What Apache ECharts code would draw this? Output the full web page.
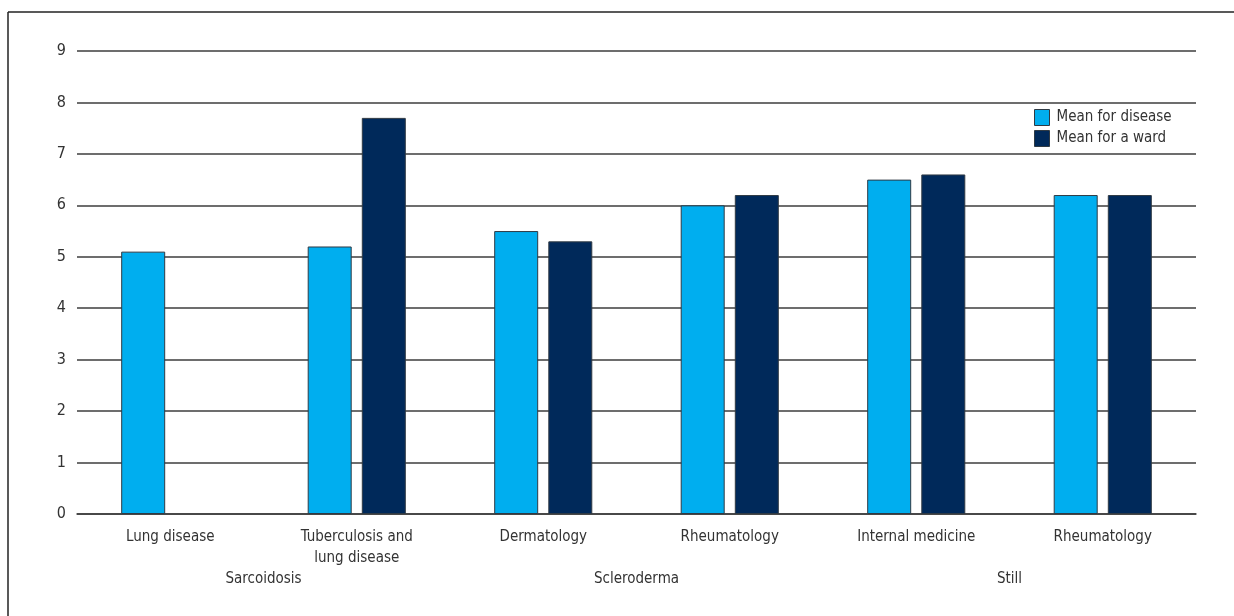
<!DOCTYPE html>
<html>
<head>
<meta charset="utf-8">
<script src="https://cdn.jsdelivr.net/npm/echarts@6/dist/echarts.min.js"></script>
<style>
  html, body { margin: 0; padding: 0; background: #fff; }
  #chart { width: 1234px; height: 616px; }
</style>
</head>
<body>
<div id="chart"></div>
<script>
// Wards (first row of the axis) and the disease each pair of wards belongs to
const wards = ['Lung disease', 'Tuberculosis and\nlung disease', 'Dermatology', 'Rheumatology', 'Internal medicine', 'Rheumatology'];
const diseases = ['Sarcoidosis', 'Scleroderma', 'Still'];

// Mean values
const meanForDisease = [5.1, 5.2, 5.5, 6.0, 6.5, 6.2];
const meanForWard = [null, 7.7, 5.3, 6.2, 6.6, 6.2];

const yTicks = [0, 1, 2, 3, 4, 5, 6, 7, 8, 9];

const FONT = '"DejaVu Sans Condensed", "Roboto", sans-serif';
const TEXT = '#333333';
const LINE = '#3c3c3c';

const chart = echarts.init(document.getElementById('chart'), null, { renderer: 'canvas' });

chart.setOption({
  animation: false,
  textStyle: { fontFamily: FONT },
  grid: { left: 77, right: 38, top: 51, bottom: 102 },
  legend: {
    orient: 'vertical',
    left: 1029,
    top: 104,
    icon: 'rect',
    itemWidth: 15,
    itemHeight: 16,
    itemGap: 4,
    itemStyle: { borderColor: '#2f3a44', borderWidth: 1 },
    textStyle: { fontFamily: FONT, fontSize: 15, color: TEXT, padding: [0, 0, 0, 2] },
    data: ['Mean for disease', 'Mean for a ward']
  },
  xAxis: [
    {
      type: 'category',
      data: wards,
      axisLine: { show: true, lineStyle: { color: LINE, width: 1.5 } },
      axisTick: { show: false },
      axisLabel: {
        fontFamily: FONT, fontSize: 15, color: TEXT, margin: 13,
        lineHeight: 21, interval: 0
      }
    },
    {
      type: 'category',
      position: 'bottom',
      offset: 58,
      data: diseases,
      axisLine: { show: false },
      axisTick: { show: false },
      axisLabel: { fontFamily: FONT, fontSize: 15, color: TEXT, margin: 0, interval: 0 }
    }
  ],
  yAxis: {
    type: 'value',
    min: yTicks[0],
    max: yTicks[yTicks.length - 1],
    interval: 1,
    axisLine: { show: false },
    axisTick: { show: false },
    axisLabel: { fontFamily: FONT, fontSize: 16, color: TEXT, margin: 11 },
    splitLine: { show: true, lineStyle: { color: LINE, width: 1.5 } }
  },
  series: [
    {
      name: 'Mean for disease',
      type: 'bar',
      xAxisIndex: 0,
      data: meanForDisease,
      barWidth: 44,
      barGap: '23%',
      itemStyle: { color: '#00aeef', borderColor: '#2f3a44', borderWidth: 1 }
    },
    {
      name: 'Mean for a ward',
      type: 'bar',
      xAxisIndex: 0,
      data: meanForWard,
      barWidth: 44,
      itemStyle: { color: '#00295a', borderColor: '#2f3a44', borderWidth: 1 }
    }
  ],
  graphic: [
    { type: 'line', shape: { x1: 8, y1: 12, x2: 1234, y2: 12 }, style: { stroke: '#222', lineWidth: 1.5 } },
    { type: 'line', shape: { x1: 8, y1: 12, x2: 8, y2: 616 }, style: { stroke: '#222', lineWidth: 1.5 } }
  ]
});
</script>
</body>
</html>
